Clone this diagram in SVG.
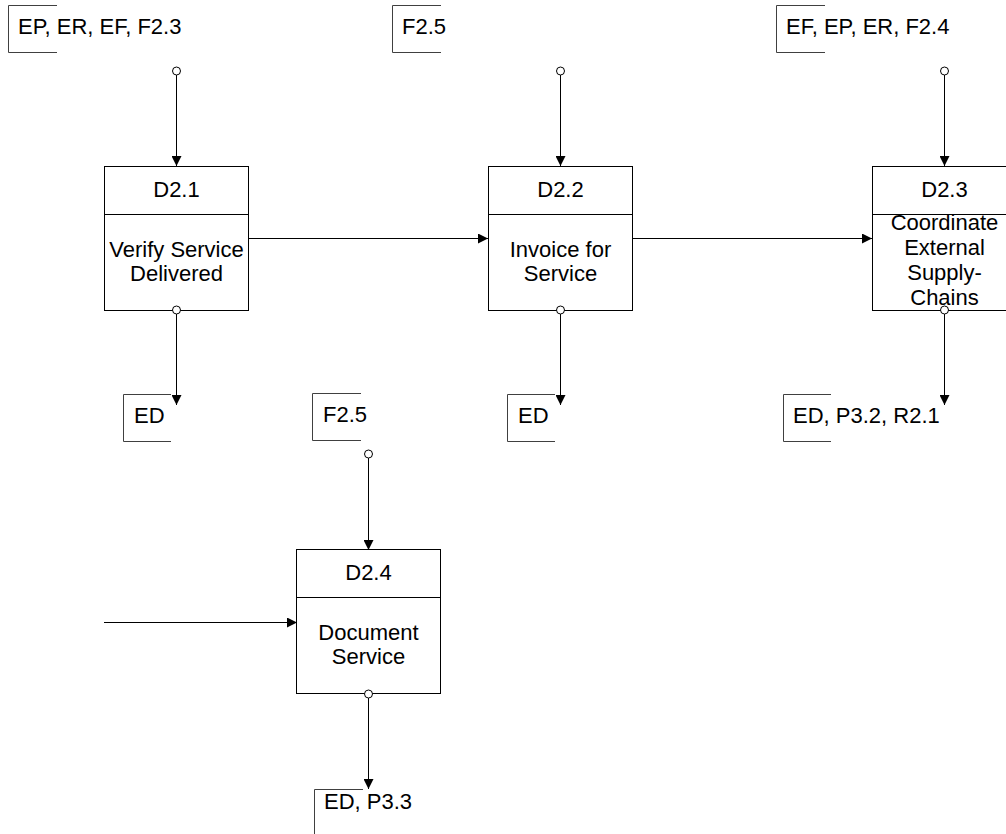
<svg xmlns="http://www.w3.org/2000/svg" width="1006" height="834" viewBox="0 0 1006 834">
  <style>
    .box { fill: #ffffff; stroke: #000000; stroke-width: 1; }
    .div { stroke: #000000; stroke-width: 1; }
    .t { font-family: "Liberation Sans", Arial, sans-serif; font-size: 22px; fill: #000000; }
    .c { text-anchor: middle; }
    .tag { fill: none; stroke: #404040; stroke-width: 1; }
    .wire { fill: none; stroke: #000000; stroke-width: 1; }
    .wire.arrow { marker-end: url(#head); }
    .dot { fill: #ffffff; stroke: #000000; stroke-width: 1; }
  </style>
  <defs>
    <marker id="head" markerUnits="userSpaceOnUse" markerWidth="10" markerHeight="10" refX="10" refY="5" orient="auto">
      <path d="M0,0 L10,5 L0,10 z" fill="#000000"/>
    </marker>
  </defs>
  <rect width="1006" height="834" fill="#ffffff"/>

  <!-- labels on connector ends -->
  <g id="labels">
    <g id="lbl-d21-in"><path class="tag" d="M57,5.5 H8.5 V52.5 H57"/><text class="t" x="18" y="34">EP, ER, EF, F2.3</text></g>
    <g id="lbl-d22-in"><path class="tag" d="M441,5.5 H392.5 V52.5 H441"/><text class="t" x="402" y="34">F2.5</text></g>
    <g id="lbl-d23-in"><path class="tag" d="M825,5.5 H776.5 V52.5 H825"/><text class="t" x="786" y="34">EF, EP, ER, F2.4</text></g>
    <g id="lbl-d21-out"><path class="tag" d="M171,394.5 H123.5 V441.5 H171"/><text class="t" x="134" y="423">ED</text></g>
    <g id="lbl-d22-out"><path class="tag" d="M555,394.5 H507.5 V441.5 H555"/><text class="t" x="518" y="423">ED</text></g>
    <g id="lbl-d23-out"><path class="tag" d="M831,394.5 H783.5 V441.5 H831"/><text class="t" x="793" y="423">ED, P3.2, R2.1</text></g>
    <g id="lbl-d24-in"><path class="tag" d="M361,393.5 H312.5 V440.5 H361"/><text class="t" x="323" y="422">F2.5</text></g>
    <g id="lbl-d24-out"><path class="tag" d="M363,789.5 H314.5 V836"/><text class="t" x="324" y="809">ED, P3.3</text></g>
  </g>

  <!-- connectors -->
  <g id="connectors">
    <path class="wire arrow" d="M176.5,75 V166"/>
    <circle class="dot" cx="176.5" cy="71" r="4"/>
    <path class="wire arrow" d="M560.5,75 V166"/>
    <circle class="dot" cx="560.5" cy="71" r="4"/>
    <path class="wire arrow" d="M944.5,75 V166"/>
    <circle class="dot" cx="944.5" cy="71" r="4"/>
    <path class="wire arrow" d="M368.5,458 V550"/>
    <circle class="dot" cx="368.5" cy="454" r="4"/>

    <path class="wire arrow" d="M249,238.5 H488"/>
    <path class="wire arrow" d="M633,238.5 H872"/>
    <path class="wire arrow" d="M104,622.5 H297"/>

    <path class="wire arrow" d="M176.5,314 V405"/>
    <path class="wire arrow" d="M560.5,314 V405"/>
    <path class="wire arrow" d="M944.5,314 V405"/>
    <path class="wire arrow" d="M368.5,698 V789"/>
  </g>

  <!-- activity boxes -->
  <g id="d21">
    <rect class="box" x="104.5" y="166.5" width="144" height="144"/>
    <line class="div" x1="104.5" y1="214.5" x2="248.5" y2="214.5"/>
    <text class="t c" x="176.5" y="197">D2.1</text>
    <text class="t c" x="176.5" y="257">Verify Service</text>
    <text class="t c" x="176.5" y="281">Delivered</text>
  </g>
  <g id="d22">
    <rect class="box" x="488.5" y="166.5" width="144" height="144"/>
    <line class="div" x1="488.5" y1="214.5" x2="632.5" y2="214.5"/>
    <text class="t c" x="560.5" y="197">D2.2</text>
    <text class="t c" x="560.5" y="257">Invoice for</text>
    <text class="t c" x="560.5" y="281">Service</text>
  </g>
  <g id="d23">
    <rect class="box" x="872.5" y="166.5" width="144" height="144"/>
    <line class="div" x1="872.5" y1="214.5" x2="1016.5" y2="214.5"/>
    <text class="t c" x="944.5" y="197">D2.3</text>
    <text class="t c" x="944.5" y="230">Coordinate</text>
    <text class="t c" x="944.5" y="255">External</text>
    <text class="t c" x="944.5" y="280">Supply-</text>
    <text class="t c" x="944.5" y="305">Chains</text>
  </g>
  <g id="d24">
    <rect class="box" x="296.5" y="549.5" width="144" height="144"/>
    <line class="div" x1="296.5" y1="597.5" x2="440.5" y2="597.5"/>
    <text class="t c" x="368.5" y="580">D2.4</text>
    <text class="t c" x="368.5" y="640">Document</text>
    <text class="t c" x="368.5" y="664">Service</text>
  </g>

  <!-- output ports sit on the box edges -->
  <g id="ports">
    <circle class="dot" cx="176.5" cy="310" r="4"/>
    <circle class="dot" cx="560.5" cy="310" r="4"/>
    <circle class="dot" cx="944.5" cy="310" r="4"/>
    <circle class="dot" cx="368.5" cy="694" r="4"/>
  </g>
</svg>
